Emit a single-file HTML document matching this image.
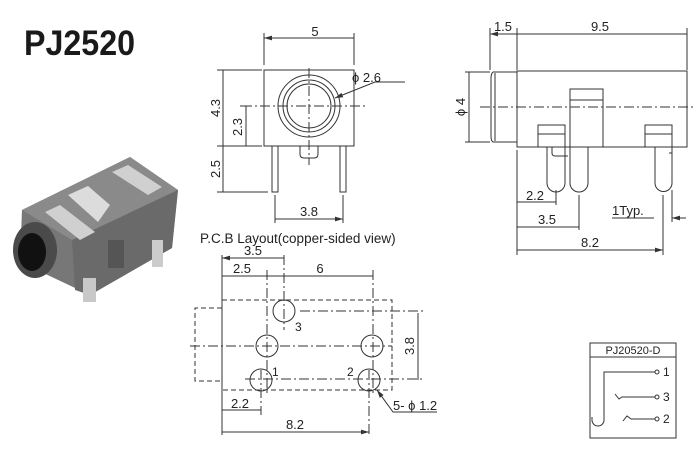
<!DOCTYPE html>
<html><head><style>body{margin:0;background:#fff}svg{display:block}</style></head><body>
<svg width="700" height="450" viewBox="0 0 700 450" xmlns="http://www.w3.org/2000/svg" font-family="Liberation Sans, Arial, sans-serif">
<defs>
<marker id="a" viewBox="0 0 10 6" refX="10" refY="3" markerWidth="8" markerHeight="5" orient="auto-start-reverse" markerUnits="userSpaceOnUse"><path d="M0,0L10,3L0,6z" fill="#333"/></marker>
</defs>
<rect width="700" height="450" fill="#fff"/>
<text x="24" y="55" font-size="35" font-weight="bold" fill="#1a1a1a" textLength="111" lengthAdjust="spacingAndGlyphs">PJ2520</text>

<!-- photo -->
<g>
<polygon points="22,210 130,157 178,190 172,248 90,295 20,262" fill="#777"/>
<polygon points="22,210 130,157 178,190 72,240" fill="#8a8a8a"/>
<polygon points="72,240 178,190 172,248 90,295 75,290" fill="#6a6a6a"/>
<polygon points="45,212 60,205 95,232 80,240" fill="#d0d0d0"/>
<polygon points="68,195 88,186 110,205 98,222" fill="#dcdcdc"/>
<polygon points="112,172 128,165 162,187 148,195" fill="#d0d0d0"/>
<rect x="108" y="240" width="16" height="28" fill="#555"/>
<ellipse cx="35" cy="250" rx="22" ry="28" fill="#4a4a4a"/>
<ellipse cx="32" cy="252" rx="14" ry="19" fill="#111"/>
<rect x="152" y="240" width="11" height="27" fill="#ccc"/>
<rect x="83" y="278" width="13" height="24" fill="#c8c8c8"/>
</g>

<g stroke="#333" stroke-width="1" fill="none">
<!-- front view -->
<rect x="264" y="70" width="90" height="76"/>
<circle cx="309" cy="106" r="31"/><circle cx="309" cy="106" r="26"/><circle cx="309" cy="106" r="22"/>
<rect x="272" y="146" width="6" height="46"/><rect x="340" y="146" width="6" height="46"/>
<path d="M300,146 v8 q0,4 4,4 h10 q4,0 4,-4 v-8"/>
<path d="M242,106 H368 M309,68 V165" stroke-dasharray="10,3,2,3"/>
<path d="M264,33 V65 M354,33 V65 M217,70 H262 M217,146 H262 M217,192 H268 M240,106 H252 M275,195 V223 M343,195 V223"/>
<path d="M264,38 H354 M223,70 V146 M246,106 V146 M223,146 V192 M275,219 H343" marker-start="url(#a)" marker-end="url(#a)"/>
<path d="M335,98 L375,82 H405" marker-start="url(#a)"/>

<!-- side view -->
<rect x="517" y="71" width="170" height="76"/>
<path d="M517,72 H493 Q491,74 491,78 V136 Q491,141 493,142 H517"/>
<path d="M495,73 V141"/>
<rect x="570" y="89" width="33" height="58"/><path d="M570,100 H603"/>
<rect x="538" y="125" width="27" height="22"/><path d="M538,134 H565"/>
<rect x="645" y="125" width="27" height="22"/><path d="M645,134 H672"/>
<path d="M547,147 V183 a9,9 0 0 0 18,0 V147"/>
<path d="M570,147 V183 a9,9 0 0 0 18,0 V147"/>
<path d="M655,147 V183 a8.5,8.5 0 0 0 17,0 V147"/>
<path d="M552,147 V153 q0,3 3,3 H568"/>
<path d="M672,147 V153 h-3"/>
<path d="M480,107 H695" stroke-dasharray="10,3,2,3"/>
<path d="M490,28 V70 M517,28 V70 M687,28 V70 M465,72 H490 M465,142 H490 M517,150 V255 M556,190 V205 M579,195 V230 M663,195 V255 M672,190 V222"/>
<path d="M490,34 H517 M517,34 H687 M469,72 V142 M517,202 H556 M517,227 H579 M517,250 H663" marker-start="url(#a)" marker-end="url(#a)"/>
<path d="M612,218 H654 M686,218 H672" marker-end="url(#a)"/>

<!-- PCB -->
<rect x="222" y="300" width="170" height="90" stroke-dasharray="5,3"/>
<path d="M222,308 H195 V381 H222" stroke-dasharray="5,3"/>
<circle cx="284" cy="311" r="11"/><circle cx="267" cy="346" r="11"/><circle cx="372" cy="346" r="11"/>
<circle cx="261" cy="380" r="11"/><circle cx="369" cy="380" r="11"/>
<path d="M190,346 H392 M267,270 V395 M284,255 V330 M373,270 V395 M261,370 V415 M369,370 V437 M300,311 H423 M245,379 H423" stroke-dasharray="10,3,2,3"/>
<path d="M222,255 V435"/>
<path d="M222,258 H284 M222,276 H267 M267,276 H373 M418,313 V380 M222,410 H261 M222,432 H369" marker-start="url(#a)" marker-end="url(#a)"/>
<path d="M377,390 L393,412 H437" marker-start="url(#a)"/>

<!-- schematic -->
<rect x="590" y="343" width="86" height="95"/>
<path d="M590,357 H676"/>
<path d="M655,372 H604 V420 a6,6 0 0 1 -12,0 v-3"/>
<path d="M615,394 L619,399 L622,397 H655"/>
<path d="M623,421 L627,416 L631,419 H655"/>
<circle cx="657" cy="372" r="2"/><circle cx="657" cy="397" r="2"/><circle cx="657" cy="419" r="2"/>
</g>

<g fill="#222" font-size="13">
<text x="315" y="36" text-anchor="middle">5</text>
<text x="352" y="82">ϕ 2.6</text>
<text transform="translate(220,108) rotate(-90)" text-anchor="middle">4.3</text>
<text transform="translate(242,127) rotate(-90)" text-anchor="middle">2.3</text>
<text transform="translate(220,169) rotate(-90)" text-anchor="middle">2.5</text>
<text x="309" y="216" text-anchor="middle">3.8</text>
<text x="503" y="31" text-anchor="middle">1.5</text>
<text x="600" y="31" text-anchor="middle">9.5</text>
<text transform="translate(465,107) rotate(-90)" text-anchor="middle">ϕ 4</text>
<text x="535" y="200" text-anchor="middle">2.2</text>
<text x="547" y="224" text-anchor="middle">3.5</text>
<text x="590" y="247" text-anchor="middle">8.2</text>
<text x="612" y="215">1Typ.</text>
<text x="200" y="243" font-size="13.5">P.C.B Layout(copper-sided view)</text>
<text x="253" y="255" text-anchor="middle">3.5</text>
<text x="242" y="273" text-anchor="middle">2.5</text>
<text x="320" y="273" text-anchor="middle">6</text>
<text x="295" y="331" font-size="12">3</text>
<text x="272" y="376" font-size="12">1</text>
<text x="347" y="376" font-size="12">2</text>
<text transform="translate(414,346) rotate(-90)" text-anchor="middle">3.8</text>
<text x="240" y="408" text-anchor="middle">2.2</text>
<text x="295" y="429" text-anchor="middle">8.2</text>
<text x="393" y="410">5- ϕ 1.2</text>
<text x="633" y="354" text-anchor="middle" font-size="11">PJ20520-D</text>
<text x="663" y="376" font-size="12">1</text>
<text x="663" y="401" font-size="12">3</text>
<text x="663" y="423" font-size="12">2</text>
</g>
</svg>
</body></html>
